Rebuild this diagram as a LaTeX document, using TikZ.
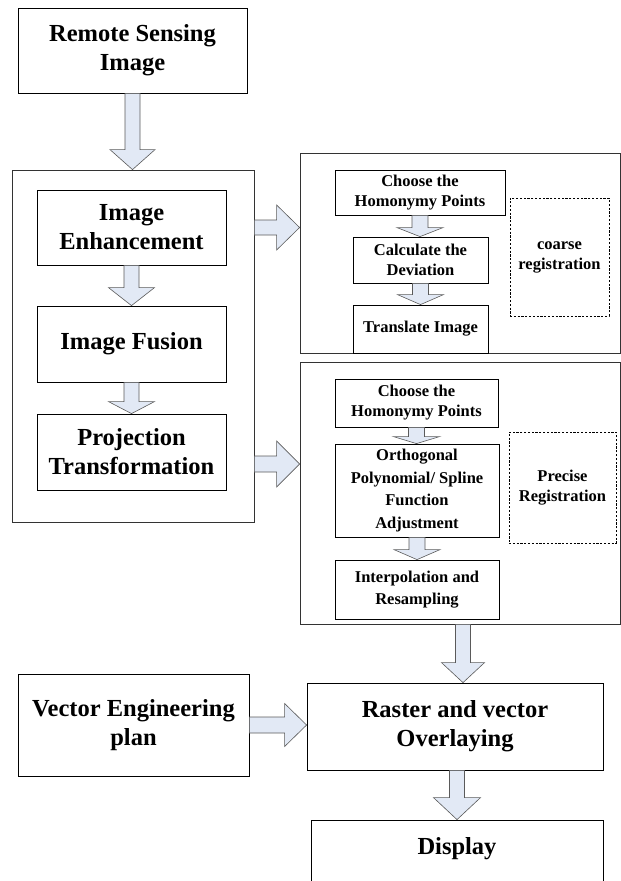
\documentclass[tikz,border=0pt]{standalone}
\usepackage{fontspec}
\setmainfont{Liberation Serif}
\usetikzlibrary{calc}
\definecolor{arrowfill}{RGB}{226,233,245}
\definecolor{arrowline}{RGB}{90,90,90}
\tikzset{
  box/.style={draw=black, line width=0.8pt, inner sep=0pt, align=center, anchor=center},
  outerbox/.style={draw=black!80, line width=0.8pt, inner sep=0pt},
  dashbox/.style={draw=black, line width=0.6pt, dash pattern=on 2.2pt off 1.6pt, inner sep=0pt, align=center},
  bigtext/.style={font=\bfseries\fontsize{24.5}{29}\selectfont},
  smalltext/.style={font=\bfseries\fontsize{16.5}{20}\selectfont},
  smalltextwide/.style={font=\bfseries\fontsize{16.5}{22.5}\selectfont},
  blockarrow/.style={fill=arrowfill, draw=arrowline, line width=0.6pt, line join=miter},
}
% #1 start, #2 tip, #3 half shaft width, #4 half head width, #5 head length
\newcommand{\downblock}[5]{%
  \path[blockarrow] let \p1=#1, \p2=#2 in
    (\x2-#3pt,\y1) -- (\x2-#3pt,\y2+#5pt) -- (\x2-#4pt,\y2+#5pt) -- (\x2,\y2)
    -- (\x2+#4pt,\y2+#5pt) -- (\x2+#3pt,\y2+#5pt) -- (\x2+#3pt,\y1) -- cycle;}
\newcommand{\rightblock}[5]{%
  \path[blockarrow] let \p1=#1, \p2=#2 in
    (\x1,\y2+#3pt) -- (\x2-#5pt,\y2+#3pt) -- (\x2-#5pt,\y2+#4pt) -- (\x2,\y2)
    -- (\x2-#5pt,\y2-#4pt) -- (\x2-#5pt,\y2-#3pt) -- (\x1,\y2-#3pt) -- cycle;}
\begin{document}
\begin{tikzpicture}[x=1pt,y=-1pt]
\useasboundingbox (0,0) rectangle (621,881);

% left column
\node[box, bigtext, minimum width=229pt, minimum height=85pt] (remote) at (132.5,50.5) {Remote Sensing\\Image};
\node[outerbox, minimum width=242pt, minimum height=352pt] (outerL) at (133,346) {};
\node[box, bigtext, minimum width=189pt, minimum height=75pt] (ie) at (131.5,227.5) {Image\\Enhancement};
\node[box, bigtext, minimum width=189pt, minimum height=76pt] (if) at (131.5,344) {Image Fusion};
\node[box, bigtext, minimum width=189pt, minimum height=76pt] (pt) at (131.5,452) {Projection\\Transformation};

% coarse registration panel
\node[outerbox, minimum width=320pt, minimum height=200pt] (rtop) at (460,253) {};
\node[box, smalltext, minimum width=170pt, minimum height=45pt] (chp1) at (420,192.5) {Choose the\\Homonymy Points};
\node[box, smalltext, minimum width=135pt, minimum height=46pt] (calc) at (420.5,260) {Calculate the\\Deviation};
\node[box, smalltext, minimum width=135pt, minimum height=48pt] (trans) at (420.5,329) {Translate Image};
\node[dashbox, smalltext, minimum width=99pt, minimum height=118pt] (coarse) at (559.5,257) {coarse\\registration};

% precise registration panel
\node[outerbox, minimum width=320pt, minimum height=262pt] (rbot) at (460,493) {};
\node[box, smalltext, minimum width=163pt, minimum height=48pt] (chp2) at (416.5,403) {Choose the\\Homonymy Points};
\node[box, smalltextwide, minimum width=164pt, minimum height=93pt] (ortho) at (417,490.5) {Orthogonal\\Polynomial/ Spline\\Function\\Adjustment};
\node[box, smalltextwide, minimum width=164pt, minimum height=59pt] (interp) at (417,589.5) {Interpolation and\\Resampling};
\node[dashbox, smalltext, minimum width=107pt, minimum height=111pt] (precise) at (562.5,487.5) {Precise\\Registration};

% bottom
\node[box, bigtext, minimum width=231pt, minimum height=102pt] (vector) at (133.5,725) {Vector Engineering\\plan};
\node[box, bigtext, minimum width=296pt, minimum height=87pt] (raster) at (455,726.5) {Raster and vector\\Overlaying};
\begin{scope}
  \clip (0,0) rectangle (621,881);
  \node[box, minimum width=292pt, minimum height=80pt] (display) at (457,860) {};
\end{scope}
\node[bigtext, inner sep=0pt] (displaytext) at (457,849) {Display};

% block arrows
\downblock{(remote.south)}{(remote.south |- outerL.north)}{7.5}{22.5}{20}
\downblock{(ie.south)}{(ie.south |- if.north)}{7.5}{23}{18}
\downblock{(if.south)}{(if.south |- pt.north)}{7.5}{23}{12}
\downblock{(chp1.south)}{(chp1.south |- calc.north)}{8}{23}{9}
\downblock{(calc.south)}{(calc.south |- trans.north)}{8}{23}{10}
\downblock{(chp2.south)}{(chp2.south |- ortho.north)}{8}{23}{7}
\downblock{(ortho.south)}{(ortho.south |- interp.north)}{8}{23}{10}
\coordinate (a8) at ($(raster.north)+(8,0)$);
\downblock{(rbot.south -| a8)}{(a8)}{7.5}{21.5}{20}
\downblock{(raster.south -| display.north)}{(display.north)}{7.5}{23.5}{22}

\rightblock{(outerL.east |- ie.east)}{(rtop.west |- ie.east)}{7.5}{22.5}{23}
\coordinate (a11) at ($(rbot.west |- pt.east)+(0,12)$);
\rightblock{(outerL.east |- a11)}{(a11)}{8}{23}{23}
\rightblock{(vector.east)}{(raster.west |- vector.east)}{8}{21.5}{22}
\end{tikzpicture}
\end{document}
